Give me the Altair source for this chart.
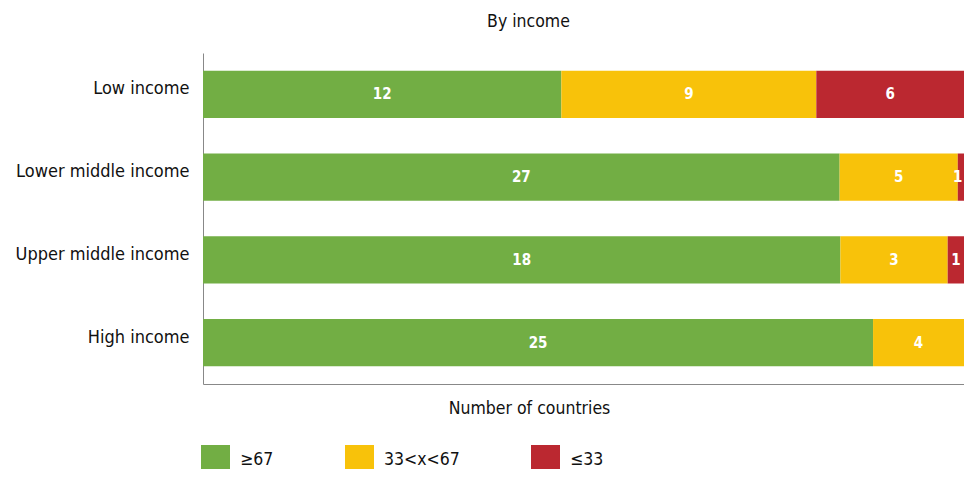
import altair as alt
import pandas as pd

# ---- data ----
categories = ["Low income", "Lower middle income", "Upper middle income", "High income"]
groups = ["≥67", "33<x<67", "≤33"]
colors = ["#72AE44", "#F8C20A", "#BB2830"]

# share of the bar occupied by each group
share_high = [0.461, 0.819, 0.820, 0.862]
share_mid = [0.328, 0.152, 0.138, 0.138]
share_low = [0.211, 0.029, 0.042, 0.0]

# number of countries printed on each segment
count_high = [12, 27, 18, 25]
count_mid = [9, 5, 3, 4]
count_low = [6, 1, 1, 0]

rows = []
for i, c in enumerate(categories):
    for k, (g, s, n) in enumerate(zip(groups,
                                      [share_high[i], share_mid[i], share_low[i]],
                                      [count_high[i], count_mid[i], count_low[i]])):
        if s > 0:
            rows.append({"category": c, "group": g, "order": k, "share": s, "count": n})
df = pd.DataFrame(rows)

DMAX = 0.979
FONT = "DejaVu Sans Condensed, Roboto, sans-serif"

base = alt.Chart(df).transform_stack(
    stack="share", as_=["x0", "x1"], groupby=["category"],
    sort=[alt.SortField("order", order="ascending")]
)

y_enc = alt.Y(
    "category:N", sort=categories,
    scale=alt.Scale(paddingInner=0.43, paddingOuter=0.215),
    axis=alt.Axis(title=None, ticks=False, grid=False, labelFontSize=18, labelPadding=14,
                  labelOffset=-5, labelColor="#111111", labelFont=FONT,
                  domainColor="#888888", domainWidth=1),
)

x_axis = alt.Axis(labels=False, ticks=False, grid=False,
                  title="Number of countries", titleFontSize=17.5,
                  titleFont=FONT, titleFontWeight="normal", titleColor="#111111",
                  titleX=326, titleAlign="center", titlePadding=15,
                  domainColor="#888888", domainWidth=1)

bars = base.mark_bar(clip=True).encode(
    x=alt.X("x0:Q", scale=alt.Scale(domain=[0, DMAX], nice=False, zero=True), axis=x_axis),
    x2="x1:Q",
    y=y_enc,
    color=alt.Color("group:N", scale=alt.Scale(domain=groups, range=colors),
                    legend=alt.Legend(title=None, orient="none", legendX=-2, legendY=392,
                                      direction="horizontal", columns=3,
                                      symbolType="square", symbolSize=841,
                                      symbolStrokeWidth=0, symbolOpacity=1,
                                      labelFontSize=17.5, labelFont=FONT, labelColor="#111111",
                                      labelOffset=10, columnPadding=71)),
)

labels = base.transform_calculate(
    mid="min((datum.x0 + min(datum.x1, %f)) / 2, 0.971)" % DMAX
).mark_text(color="white", fontWeight="bold", fontSize=15, font=FONT).encode(
    x=alt.X("mid:Q", axis=x_axis),
    y=y_enc,
    text=alt.Text("count:Q"),
)

chart = alt.layer(bars, labels).properties(
    width=761,
    height=331,
    title=alt.TitleParams("By income", fontSize=17.5, font=FONT, fontWeight="normal",
                          color="#111111", anchor="middle", dx=-55, offset=23),
    autosize=alt.AutoSizeParams(type="none"),
    padding={"left": 195, "top": 45, "right": 0, "bottom": 85},
).configure(
    font=FONT,
    view=alt.ViewConfig(stroke="transparent", strokeWidth=0),
    axis=alt.AxisConfig(grid=False),
)

chart.save("out.html", embed_options={"renderer": "svg", "actions": False})
